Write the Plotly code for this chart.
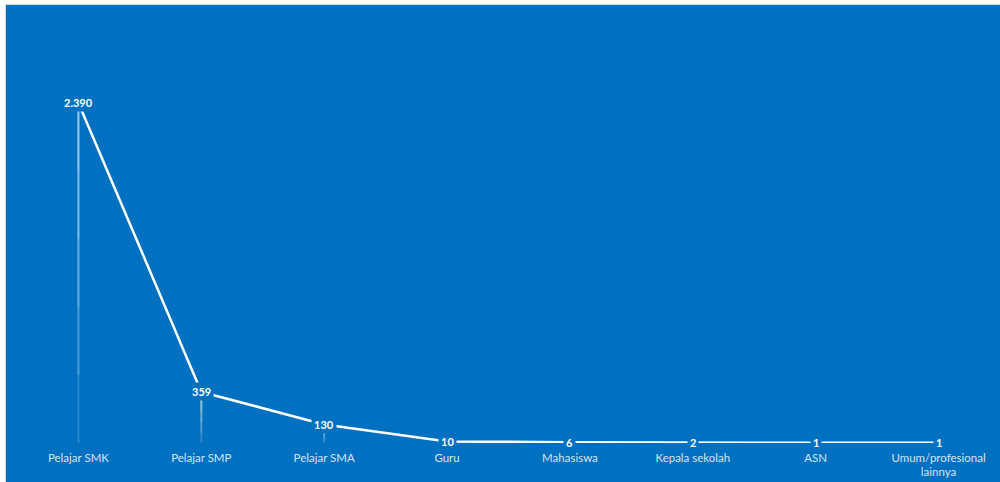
import plotly.graph_objects as go

categories = ["Pelajar SMK", "Pelajar SMP", "Pelajar SMA", "Guru", "Mahasiswa",
              "Kepala sekolah", "ASN", "Umum/profesional<br>lainnya"]
values = [2390, 359, 130, 10, 6, 2, 1, 1]

BLUE = "#0070C0"
W, H = 1000, 482
ML, MR, MT, MB = 17, 0, 60, 39
PW, PH = W - ML - MR, H - MT - MB

def fmt(v):
    return f"{v:,}".replace(",", ".")

fig = go.Figure()

# fading drop lines (layered error bars, stronger near the point)
for f in [1.0, 0.8, 0.6, 0.4, 0.2]:
    fig.add_trace(go.Scatter(
        x=categories, y=values, mode="markers",
        marker=dict(size=0.1, color="rgba(0,0,0,0)"),
        error_y=dict(type="data", symmetric=False, array=[0] * len(values),
                     arrayminus=[v * f for v in values],
                     color="rgba(255,255,255,0.17)", thickness=2, width=0),
        hoverinfo="skip", showlegend=False))

fig.add_trace(go.Scatter(
    x=categories, y=values, mode="lines",
    line=dict(color="white", width=2.5), showlegend=False))

for c, v in zip(categories, values):
    fig.add_annotation(x=c, y=v, xref="x", yref="y", text=f"<b>{fmt(v)}</b>",
                       showarrow=False, bgcolor=BLUE, borderpad=2,
                       font=dict(family="Lato, Open Sans, sans-serif", size=11, color="white"))

# chart area frame
fig.add_shape(type="rect", xref="paper", yref="paper",
              x0=(5.5 - ML) / PW, x1=1.02, y0=-0.2, y1=(H - MB - 4.5) / PH,
              fillcolor=BLUE, line=dict(color="#d9d9d9", width=1), layer="below")

fig.update_layout(
    width=W, height=H,
    margin=dict(l=ML, r=MR, t=MT, b=MB),
    paper_bgcolor="white", plot_bgcolor="rgba(0,0,0,0)",
    showlegend=False,
    xaxis=dict(type="category", range=[-0.5, 7.5], showgrid=False, zeroline=False,
               showline=False, ticks="", ticklabelstandoff=6,
               tickfont=dict(family="Lato, Open Sans, sans-serif", size=11.5,
                             color="rgba(255,255,255,0.85)")),
    yaxis=dict(range=[0, PH / 0.1423], showgrid=False, zeroline=False,
               showticklabels=False, showline=False),
)

fig.write_html("out.html", config={"displayModeBar": False},
               post_script="document.body.style.margin='0';")
